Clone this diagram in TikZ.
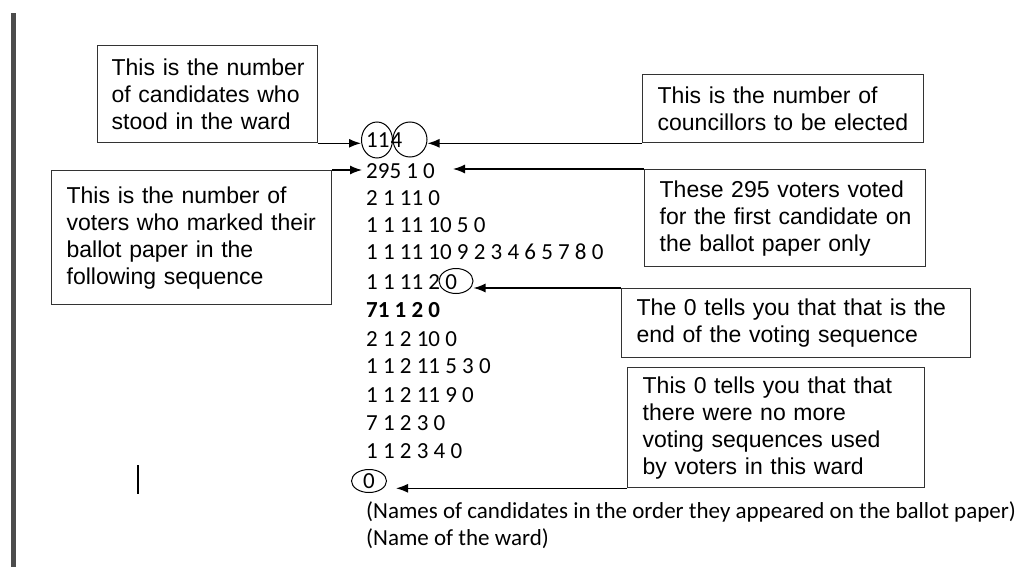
\documentclass[tikz,border=0pt]{standalone}
\usepackage{fontspec}
\usepackage{tikz}
\usetikzlibrary{shapes.geometric, arrows.meta, positioning}
\newfontfamily\notefont{Liberation Sans}
\newfontfamily\numfont{Carlito}

\tikzset{
	note/.style={draw=black!80, line width=1.3pt, rectangle, align=left, inner sep=0pt, anchor=north west, font={\notefont\fontsize{23}{27}\selectfont}},
	seq/.style={anchor=base west, inner sep=0pt, font={\numfont\fontsize{23}{28}\selectfont}},
	ring/.style={draw, ellipse, inner sep=0pt, line width=1pt},
	pointer/.style={line width=1.3pt, -{Latex[length=12pt,width=9pt]}}
}

\begin{document}
\begin{tikzpicture}[x=1pt, y=-1pt]
		\useasboundingbox (0,0) rectangle (1024,567);
		% Margin bar and cursor
		\fill[black!70] (10.5,13) rectangle (15.5,567);
		\draw[line width=1.5pt] (138,465) -- (138,494);

		% Explanation boxes
		\node[note, text width=192pt, minimum width=220pt, minimum height=97pt] (cand) at (97,45) {\mbox{This is the number}\\of candidates who\\stood in the ward};
		\node[note, text width=250pt, minimum width=280pt, minimum height=134pt] (voters) at (51,170) {This is the number of\\voters who marked their\\ballot paper in the\\following sequence};
		\node[note, text width=251pt, minimum width=281pt, minimum height=68pt] (counc) at (642,74) {This is the number of\\councillors to be elected};
		\node[note, text width=251pt, minimum width=281pt, minimum height=97pt] (first) at (644,169) {\makebox[251pt][s]{These 295 voters voted}\\\makebox[251pt][s]{for the first candidate on}\\the ballot paper only};
		\node[note, text width=319pt, minimum width=349pt, minimum height=69pt] (endseq) at (621,288) {\makebox[319pt][s]{The 0 tells you that that is the}\\end of the voting sequence};
		\node[note, text width=267pt, minimum width=297pt, minimum height=120pt] (nomore) at (627,367) {This 0 tells you that that\\there were no more\\voting sequences used\\by voters in this ward};

		% Ballot data
		\node[seq] (head) at (366,147.5) {11\kern1pt4};
		\node[seq] (s295) at (366,178) {295 1 0};
		\node[seq] (s2) at (366,205.5) {2 1 11 0};
		\node[seq] (s3) at (366,232.5) {1 1 11 10 5 0};
		\node[seq] (s4) at (366,259.5) {1 1 11 10 9 2 3 4 6 5 7 8 0};
		\node[seq] (s5) at (366,289.5) {1 1 11 2 0};
		\node[seq] (s6) at (366,317.5) {\bfseries 71 1 2 0};
		\node[seq] (s7) at (366,346) {2 1 2 10 0};
		\node[seq] (s8) at (366,373.5) {1 1 2 11 5 3 0};
		\node[seq] (s9) at (366,402) {1 1 2 11 9 0};
		\node[seq] (s10) at (366,430) {7 1 2 3 0};
		\node[seq] (s11) at (366,458.5) {1 1 2 3 4 0};
		\node[seq] (names) at (366,518) {(Names of candidates in the order they appeared on the ballot paper)};
		\node[seq] (ward) at (366,545) {(Name of the ward)};

		% Rings
		\node[ring, minimum width=31pt, minimum height=36pt] (c11) at (377,140) {};
		\node[ring, minimum width=34pt, minimum height=35pt] (c4) at (410,139.5) {};
		\node[ring, minimum width=34pt, minimum height=25pt] (c0) at (456,281) {};
		\node[ring, minimum width=35pt, minimum height=23pt, font={\numfont\fontsize{23}{28}\selectfont}] (cfin) at (369,481) {0};
		\coordinate (tip295) at (453,169);

		% Pointers
		\draw[pointer] (cand.south east) -- (cand.south east -| c11.west);
		\draw[pointer] (counc.south west) -- (counc.south west -| c4.east);
		\draw[pointer, shorten >=4pt] (voters.north east) -- (voters.north east -| s295.west);
		\draw[pointer] (first.north west) -- (tip295);
		\draw[pointer] (endseq.north west) -- (endseq.north west -| c0.east);
		\draw[pointer, shorten >=9pt] (nomore.south west) -- (nomore.south west -| cfin.east);
	\end{tikzpicture}
\end{document}
